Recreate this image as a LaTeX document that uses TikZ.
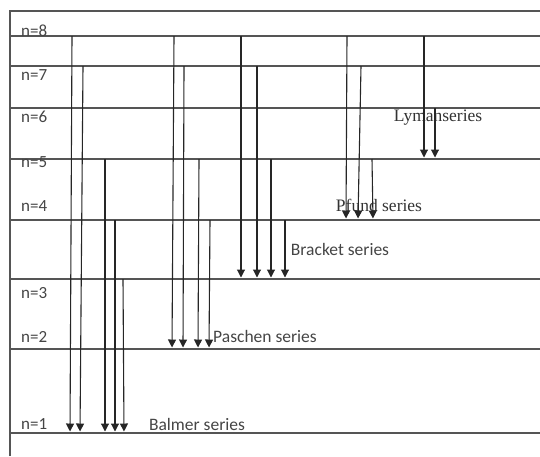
\documentclass[tikz,border=0pt]{standalone}
\usepackage{fontspec}
\setmainfont{Carlito}
\newfontfamily\tnr{Liberation Serif}
\usetikzlibrary{arrows.meta}
\definecolor{linegray}{HTML}{555555}
\definecolor{textgray}{HTML}{454545}
\begin{document}
\begin{tikzpicture}[x=1pt,y=-1pt,
  level/.style={draw=linegray,line width=1.1pt},
  arr/.style={draw=black!85,line width=1.1pt,shorten >=1.5pt,-{Triangle[length=8pt,width=8pt]}},
  nlab/.style={anchor=west,inner sep=0pt,text=textgray,font=\fontsize{17}{20}\selectfont},
  slab/.style={inner sep=0pt,text=textgray,font=\fontsize{17.5}{20}\selectfont},
  tlab/.style={inner sep=0pt,text=black!80,font=\tnr\fontsize{17.5}{20}\selectfont}]
\useasboundingbox (0,0) rectangle (540,456);
% frame
\coordinate (TL) at (10,11);
\coordinate (TR) at (540,11);
\coordinate (BL) at (10,456);
\draw[level] (BL) -- (TL) -- (TR);
% level coordinates
\coordinate (L8) at (10,36);
\coordinate (L7) at (10,66);
\coordinate (L6) at (10,108);
\coordinate (L5) at (10,159);
\coordinate (L4) at (10,220);
\coordinate (L3) at (10,279);
\coordinate (L2) at (10,349);
\coordinate (L1) at (10,433);
\foreach \k in {1,...,8} {\draw[level] (L\k) -- (540,0 |- L\k);}
% level labels
\node[nlab] (n8) at (21,31) {n=8};
\node[nlab] (n7) at (21,75) {n=7};
\node[nlab] (n6) at (21,117) {n=6};
\node[nlab] (n5) at (21,162) {n=5};
\node[nlab] (n4) at (21,206) {n=4};
\node[nlab] (n3) at (21,293) {n=3};
\node[nlab] (n2) at (21,337) {n=2};
\node[nlab] (n1) at (21,424) {n=1};
% series labels
\node[slab] (balmer) at (197,424) {Balmer series};
\node[slab] (paschen) at (265,336) {Paschen series};
\node[slab] (bracket) at (340,249) {Bracket series};
\node[tlab] (pfund) at (379,205) {Pfund series};
\node[tlab] (lyman) at (438,118) {Lymanseries};
% group to n=1
\draw[arr] (72,0 |- L8) -- (70,0 |- L1);
\draw[arr] (83,0 |- L7) -- (80,0 |- L1);
\draw[arr] (105,0 |- L5) -- (105,0 |- L1);
\draw[arr] (115,0 |- L4) -- (115,0 |- L1);
\draw[arr] (123,0 |- L3) -- (124,0 |- L1);
% group to n=2
\draw[arr] (174,0 |- L8) -- (172,0 |- L2);
\draw[arr] (184,0 |- L7) -- (183,0 |- L2);
\draw[arr] (199,0 |- L5) -- (198,0 |- L2);
\draw[arr] (210,0 |- L4) -- (209,0 |- L2);
% group to n=3
\draw[arr] (241,0 |- L8) -- (241,0 |- L3);
\draw[arr] (257,0 |- L7) -- (257,0 |- L3);
\draw[arr] (271,0 |- L5) -- (271,0 |- L3);
\draw[arr] (285,0 |- L4) -- (285,0 |- L3);
% group to n=4
\draw[arr] (347,0 |- L8) -- (346,0 |- L4);
\draw[arr] (361,0 |- L7) -- (358,0 |- L4);
\draw[arr] (372,0 |- L5) -- (373,0 |- L4);
% group to n=5
\draw[arr] (424,0 |- L8) -- (424,0 |- L5);
\draw[arr] (435,0 |- L6) -- (435,0 |- L5);
\end{tikzpicture}
\end{document}
